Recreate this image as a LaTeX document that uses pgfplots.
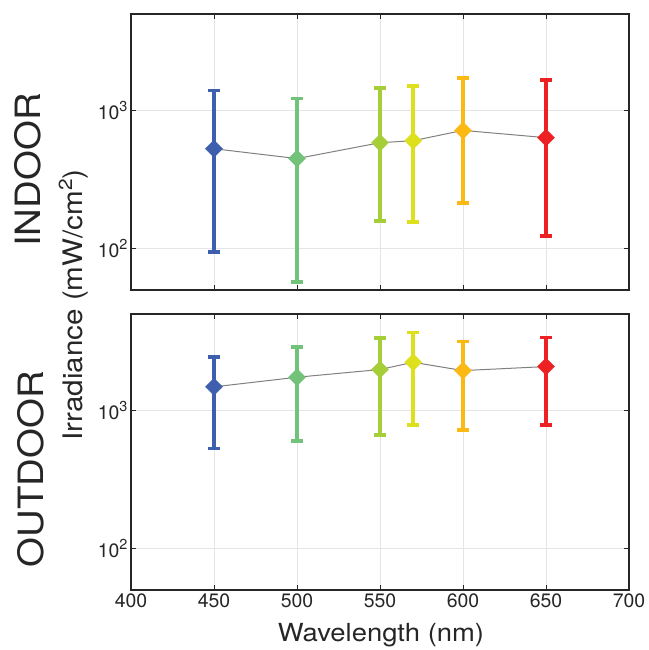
\documentclass[border=0pt]{standalone}
\usepackage{fontspec}
\setmainfont{TeX Gyre Heros}
\newfontfamily\widefont{TeX Gyre Heros}[FakeStretch=1.1]
\usepackage{pgfplots}
\pgfplotsset{compat=1.18}
\definecolor{cB}{HTML}{3E5FAD}
\definecolor{cG}{HTML}{72C27A}
\definecolor{cL}{HTML}{A6CE39}
\definecolor{cY}{HTML}{DEE01E}
\definecolor{cO}{HTML}{FDB913}
\definecolor{cR}{HTML}{ED2024}
\definecolor{axc}{HTML}{262626}
\definecolor{lnc}{HTML}{808080}
\newcommand\tsup[1]{\raisebox{7.5bp}{\fontsize{14.5}{15}\selectfont #1}}
\newcommand\lsup[1]{\raisebox{10bp}{\fontsize{19}{20}\selectfont #1}}
\pgfplotsset{
  pt/.style={color=#1, mark=square*, mark size=6.1bp,
    mark options={rotate=45, fill=#1, draw=#1, line width=0.2bp},
    error bars/y dir=both, error bars/y explicit,
    error bars/error bar style={line width=4bp, color=#1},
    error bars/error mark options={rotate=90, line width=3.6bp, mark size=5.8bp, color=#1}},
  mline/.style={color=lnc, line width=1bp, no marks},
}
\begin{document}
\begin{tikzpicture}
\useasboundingbox (0,0) rectangle (649bp,-650bp);
% INDOOR
\begin{axis}[width=498bp, height=276bp, scale only axis,
    xmin=400, xmax=700, ymode=log, ymin=50, ymax=5000,
    xtick={400,450,500,550,600,650,700}, ytick={100,1000},
    yticklabels={10\tsup{2},10\tsup{3}},
    xticklabels={},
    yminorticks=false,
    tick align=inside, major tick length=5bp,
    grid=major, major grid style={line width=0.6bp, color=black!10},
    axis line style={line width=1.4bp, color=axc},
    tick style={line width=1bp, color=axc},
    tick label style={font=\fontsize{19.5}{20}\selectfont, color=axc},
    at={(131bp,-290bp)}, anchor=south west]
\addplot[mline] coordinates {(450,528) (500,448) (550,584) (570,604) (600,717) (650,635)};
\addplot[pt=cB] coordinates {(450,528) += (0,867) -= (0,433.5)};
\addplot[pt=cG] coordinates {(500,448) += (0,773) -= (0,390.7)};
\addplot[pt=cL] coordinates {(550,584) += (0,865) -= (0,426)};
\addplot[pt=cY] coordinates {(570,604) += (0,895) -= (0,448.4)};
\addplot[pt=cO] coordinates {(600,717) += (0,996) -= (0,503)};
\addplot[pt=cR] coordinates {(650,635) += (0,1021) -= (0,512)};
\end{axis}
% OUTDOOR
\begin{axis}[width=498bp, height=276bp, scale only axis,
    xmin=400, xmax=700, ymode=log, ymin=50, ymax=5000,
    xtick={400,450,500,550,600,650,700}, ytick={100,1000},
    yticklabels={10\tsup{2},10\tsup{3}},
    xticklabels={400,450,500,550,600,650,700},
    yminorticks=false,
    tick align=inside, major tick length=5bp,
    grid=major, major grid style={line width=0.6bp, color=black!10},
    axis line style={line width=1.4bp, color=axc},
    tick style={line width=1bp, color=axc},
    tick label style={font=\fontsize{19.5}{20}\selectfont, color=axc},
    at={(131bp,-590bp)}, anchor=south west]
\addplot[mline] coordinates {(450,1483) (500,1741) (550,1980) (570,2234) (600,1945) (650,2080)};
\addplot[pt=cB] coordinates {(450,1483) += (0,945) -= (0,952)};
\addplot[pt=cG] coordinates {(500,1741) += (0,1128) -= (0,1141)};
\addplot[pt=cL] coordinates {(550,1980) += (0,1354) -= (0,1317)};
\addplot[pt=cY] coordinates {(570,2234) += (0,1449) -= (0,1451)};
\addplot[pt=cO] coordinates {(600,1945) += (0,1225) -= (0,1224)};
\addplot[pt=cR] coordinates {(650,2080) += (0,1308) -= (0,1297)};
\end{axis}
\node[anchor=base, text=axc, font=\widefont\fontsize{25}{26}\selectfont] at (381bp,-641bp) {Wavelength (nm)};
\node[anchor=base, rotate=90, text=axc, font=\widefont\fontsize{27}{28}\selectfont] at (82bp,-305bp) {Irradiance (mW/cm\lsup{2})};
\node[anchor=base, rotate=90, text=axc, font=\widefont\fontsize{35}{36}\selectfont] at (40bp,-170bp) {INDOOR};
\node[anchor=base, rotate=90, text=axc, font=\widefont\fontsize{35}{36}\selectfont] at (43bp,-469bp) {OUTDOOR};
\end{tikzpicture}
\end{document}
